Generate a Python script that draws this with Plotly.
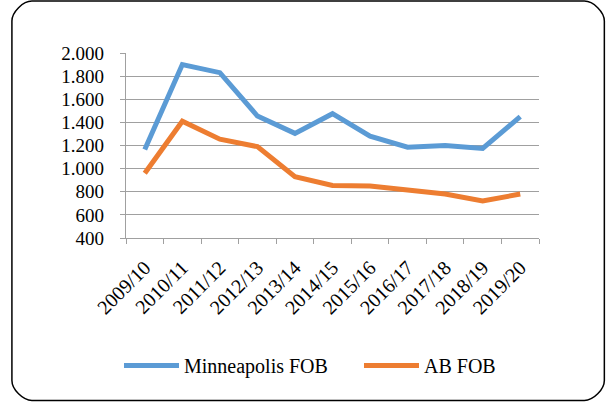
import plotly.graph_objects as go

categories = ["2009/10", "2010/11", "2011/12", "2012/13", "2013/14", "2014/15",
              "2015/16", "2016/17", "2017/18", "2018/19", "2019/20"]
minneapolis_fob = [1165, 1900, 1830, 1455, 1305, 1475, 1280, 1185, 1200, 1175, 1450]
ab_fob = [960, 1410, 1255, 1190, 930, 855, 850, 810, 780, 720, 780]
y_ticks = [400, 600, 800, 1000, 1200, 1400, 1600, 1800, 2000]

W, H = 612, 403
L, R, T, B = 126, 538.7, 53, 238.3
pw, ph = R - L, B - T

def px(x):
    return (x - L) / pw

def py(y):
    return (B - y) / ph

FONT = "Liberation Serif"

fig = go.Figure()
fig.add_trace(go.Scatter(x=categories, y=minneapolis_fob, name="Minneapolis FOB",
                         mode="lines", line=dict(color="#5B9BD5", width=5),
                         legendwidth=170))
fig.add_trace(go.Scatter(x=categories, y=ab_fob, name="AB FOB",
                         mode="lines", line=dict(color="#ED7D31", width=5),
                         legendwidth=80))

# rounded border of chart area
x0, x1, y0, y1, r = 12, 604, 1, 401, 20
k = 0.45 * r
path = (f"M {px(x0+r)},{py(y0)} L {px(x1-r)},{py(y0)} "
        f"C {px(x1-r+k)},{py(y0)} {px(x1)},{py(y0+r-k)} {px(x1)},{py(y0+r)} "
        f"L {px(x1)},{py(y1-r)} "
        f"C {px(x1)},{py(y1-r+k)} {px(x1-r+k)},{py(y1)} {px(x1-r)},{py(y1)} "
        f"L {px(x0+r)},{py(y1)} "
        f"C {px(x0+r-k)},{py(y1)} {px(x0)},{py(y1-r+k)} {px(x0)},{py(y1-r)} "
        f"L {px(x0)},{py(y0+r)} "
        f"C {px(x0)},{py(y0+r-k)} {px(x0+r-k)},{py(y0)} {px(x0+r)},{py(y0)} Z")

fig.update_layout(
    width=W, height=H,
    margin=dict(l=L, r=W - R, t=T, b=H - B, pad=0, autoexpand=False),
    paper_bgcolor="white", plot_bgcolor="white",
    separators=",.",
    font=dict(family=FONT, size=19, color="black"),
    showlegend=True,
    legend=dict(orientation="h", x=px(119), y=py(366), xanchor="left", yanchor="middle",
                font=dict(family=FONT, size=20, color="black"),
                itemwidth=55, tracegroupgap=0,
                bgcolor="rgba(0,0,0,0)"),
    shapes=[dict(type="path", path=path, xref="paper", yref="paper",
                 line=dict(color="black", width=1.5), layer="above")],
    xaxis=dict(type="category", tickangle=-45, tickson="boundaries",
               ticks="outside", ticklen=5, tickcolor="#A0A0A0", tickwidth=1.3,
               showline=True, linecolor="#A0A0A0", linewidth=1.3,
               showgrid=False, ticklabelstandoff=9,
               tickfont=dict(family=FONT, size=20, color="black"),
               range=[-0.5, 10.5]),
    yaxis=dict(range=[400, 2000], tickvals=y_ticks, tickformat=",d",
               ticks="outside", ticklen=5, tickcolor="#A0A0A0", tickwidth=1.3,
               showline=True, linecolor="#A0A0A0", linewidth=1.3,
               showgrid=True, gridcolor="#A0A0A0", gridwidth=1.3, zeroline=False,
               ticklabelstandoff=12,
               tickfont=dict(family=FONT, size=19, color="black")),
)

fig.write_html("out.html", config={"displayModeBar": False},
               post_script="document.body.style.margin='0';")
